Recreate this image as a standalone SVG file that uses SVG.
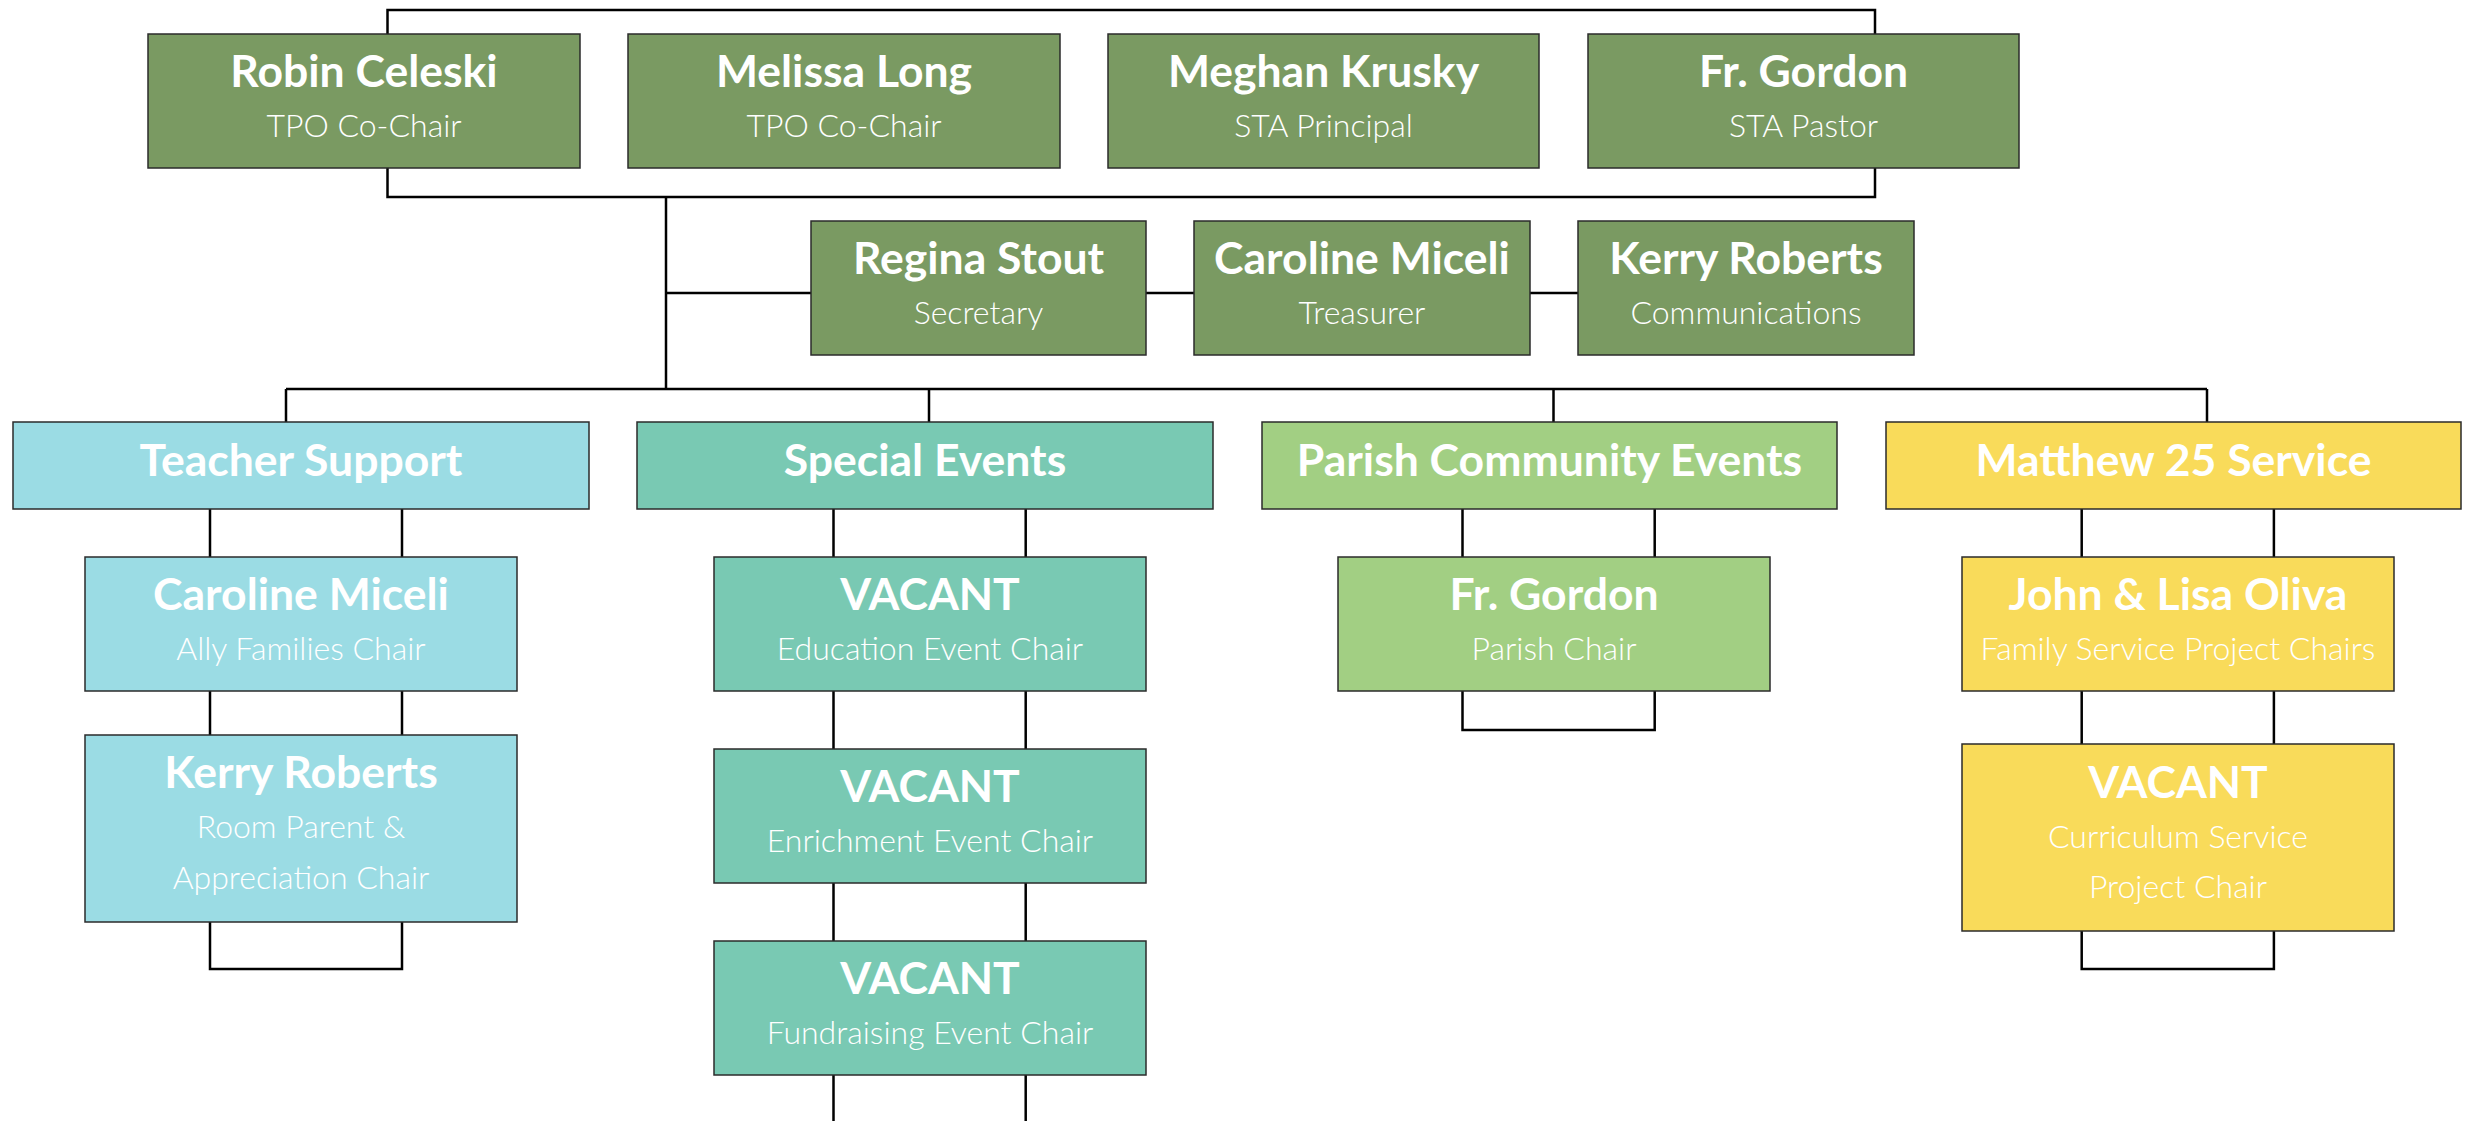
<svg xmlns="http://www.w3.org/2000/svg" width="2470" height="1121" viewBox="0 0 2470 1121">
<style>
.box{stroke:#2b2b2b;stroke-width:1.5}
.g{fill:#7A9A62}.b{fill:#9BDCE4}.t{fill:#79C9B3}.lg{fill:#A2CF83}.y{fill:#F9DB5A}
.nm{font-family:Lato,"Open Sans",sans-serif;font-weight:700;font-size:44.5px;fill:#fff;text-anchor:middle}
.sb{font-family:Lato,"Open Sans",sans-serif;font-weight:300;font-size:32px;fill:#fff;text-anchor:middle}
.ln{fill:none;stroke:#000;stroke-width:2.5}
</style>
<rect width="2470" height="1121" fill="#fff"/>
<g id="connectors" class="ln">
<path d="M387.5 34V10H1875V34"/>
<path d="M387.5 168V197H1875V168"/>
<path d="M666 197V389"/>
<path d="M666 293H811M1146 293H1194M1530 293H1578"/>
<path d="M286 389H2207"/>
<path d="M286 389V422M929 389V422M1553.5 389V422M2207 389V422"/>
<path d="M210 509V557M402 509V557M210 691V735M402 691V735M210 922V969H402V922"/>
<path d="M833.5 509V557M1025.7 509V557M833.5 691V749M1025.7 691V749M833.5 883V941M1025.7 883V941M833.5 1075V1121M1025.7 1075V1121"/>
<path d="M1462.5 509V557M1654.7 509V557M1462.5 691V730H1654.7V691"/>
<path d="M2081.7 509V557M2273.9 509V557M2081.7 691V744M2273.9 691V744M2081.7 931V969H2273.9V931"/>
</g>
<g id="robin"><rect class="box g" x="148" y="34" width="432" height="134"/><text class="nm" x="364" y="87">Robin Celeski</text><text class="sb" x="364" y="137">TPO Co-Chair</text></g>
<g id="melissa"><rect class="box g" x="628" y="34" width="432" height="134"/><text class="nm" x="844" y="87">Melissa Long</text><text class="sb" x="844" y="137">TPO Co-Chair</text></g>
<g id="meghan"><rect class="box g" x="1108" y="34" width="431" height="134"/><text class="nm" x="1323.5" y="87">Meghan Krusky</text><text class="sb" x="1323.5" y="137">STA Principal</text></g>
<g id="gordon"><rect class="box g" x="1588" y="34" width="431" height="134"/><text class="nm" x="1803.5" y="87">Fr. Gordon</text><text class="sb" x="1803.5" y="137">STA Pastor</text></g>
<g id="regina"><rect class="box g" x="811" y="221" width="335" height="134"/><text class="nm" x="978.5" y="274">Regina Stout</text><text class="sb" x="978.5" y="324">Secretary</text></g>
<g id="caroline-treasurer"><rect class="box g" x="1194" y="221" width="336" height="134"/><text class="nm" x="1362" y="274">Caroline Miceli</text><text class="sb" x="1362" y="324">Treasurer</text></g>
<g id="kerry-comm"><rect class="box g" x="1578" y="221" width="336" height="134"/><text class="nm" x="1746" y="274">Kerry Roberts</text><text class="sb" x="1746" y="324">Communications</text></g>
<g id="teacher-support"><rect class="box b" x="13" y="422" width="576" height="87"/><text class="nm" x="301" y="476">Teacher Support</text></g>
<g id="special-events"><rect class="box t" x="637" y="422" width="576" height="87"/><text class="nm" x="925" y="476">Special Events</text></g>
<g id="parish-events"><rect class="box lg" x="1262" y="422" width="575" height="87"/><text class="nm" x="1549.5" y="476">Parish Community Events</text></g>
<g id="matthew25"><rect class="box y" x="1886" y="422" width="575" height="87"/><text class="nm" x="2173.5" y="476">Matthew 25 Service</text></g>
<g id="caroline-ally"><rect class="box b" x="85" y="557" width="432" height="134"/><text class="nm" x="301" y="610">Caroline Miceli</text><text class="sb" x="301" y="660">Ally Families Chair</text></g>
<g id="kerry-room"><rect class="box b" x="85" y="735" width="432" height="187"/><text class="nm" x="301" y="788">Kerry Roberts</text><text class="sb" x="301" y="838">Room Parent &amp;</text><text class="sb" x="301" y="889">Appreciation Chair</text></g>
<g id="vacant-education"><rect class="box t" x="714" y="557" width="432" height="134"/><text class="nm" x="930" y="610">VACANT</text><text class="sb" x="930" y="660">Education Event Chair</text></g>
<g id="vacant-enrichment"><rect class="box t" x="714" y="749" width="432" height="134"/><text class="nm" x="930" y="802">VACANT</text><text class="sb" x="930" y="852">Enrichment Event Chair</text></g>
<g id="vacant-fundraising"><rect class="box t" x="714" y="941" width="432" height="134"/><text class="nm" x="930" y="994">VACANT</text><text class="sb" x="930" y="1044">Fundraising Event Chair</text></g>
<g id="gordon-parish"><rect class="box lg" x="1338" y="557" width="432" height="134"/><text class="nm" x="1554" y="610">Fr. Gordon</text><text class="sb" x="1554" y="660">Parish Chair</text></g>
<g id="oliva"><rect class="box y" x="1962" y="557" width="432" height="134"/><text class="nm" x="2178" y="610">John &amp; Lisa Oliva</text><text class="sb" x="2178" y="660">Family Service Project Chairs</text></g>
<g id="vacant-curriculum"><rect class="box y" x="1962" y="744" width="432" height="187"/><text class="nm" x="2178" y="798">VACANT</text><text class="sb" x="2178" y="848">Curriculum Service</text><text class="sb" x="2178" y="898">Project Chair</text></g>
</svg>
